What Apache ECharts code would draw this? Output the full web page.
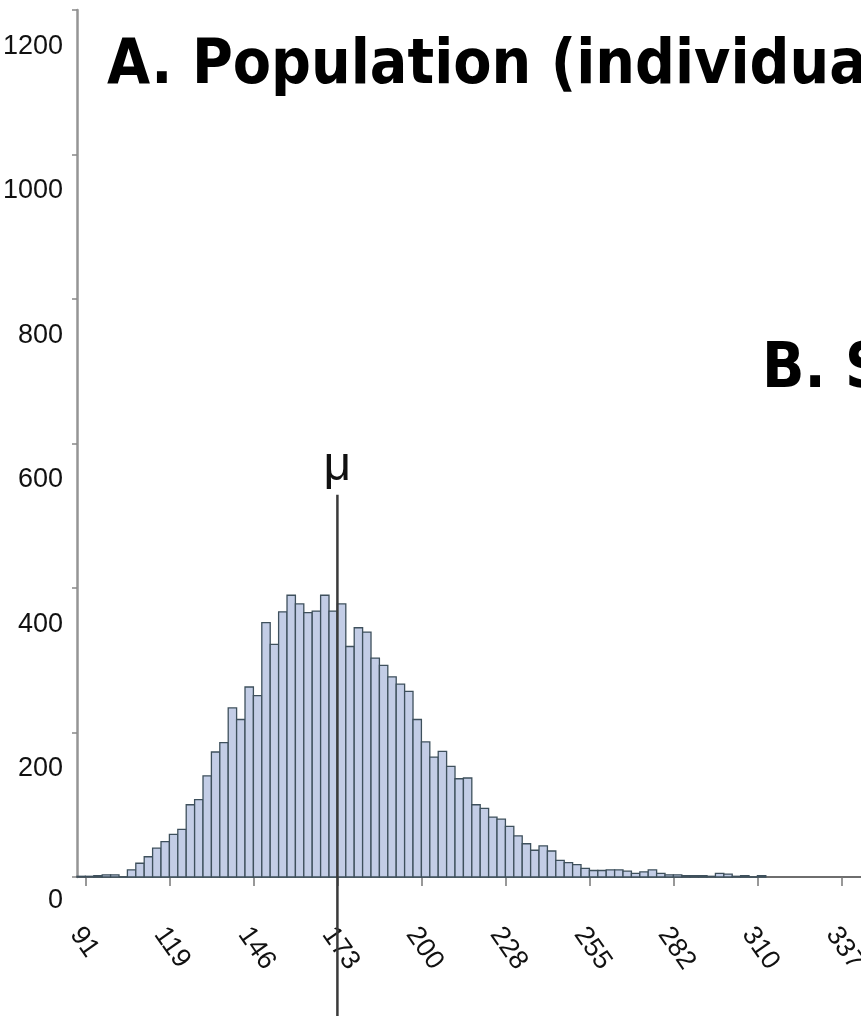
<!DOCTYPE html>
<html>
<head>
<meta charset="utf-8">
<script src="https://cdn.jsdelivr.net/npm/echarts@6/dist/echarts.min.js"></script>
<style>
  html, body { margin: 0; padding: 0; background: #ffffff; }
  #chart { width: 861px; height: 1016px; }
</style>
</head>
<body>
<div id="chart"></div>
<script>
// ---- Data ----
const BIN_START = 88.47;   // left edge of first bin
const BIN_WIDTH = 2.73;    // width of each bin
const COUNTS = [
  1, 1, 2, 3, 3, 0, 10, 19, 28, 40,
  49, 59, 66, 100, 107, 140, 173, 186, 234, 218,
  263, 251, 352, 322, 367, 390, 378, 366, 368, 390,
  368, 378, 319, 345, 339, 303, 293, 277, 267, 257,
  218, 187, 166, 174, 153, 136, 137, 100, 95, 83,
  80, 70, 57, 46, 37, 43, 36, 23, 20, 17,
  12, 9, 9, 10, 10, 8, 5, 7, 10, 5,
  3, 3, 2, 2, 2, 1, 5, 4, 1, 2,
  0, 2
];
const X_TICK_VALUES = [91.2, 118.5, 145.8, 173.1, 200.4, 227.7, 255.0, 282.3, 309.6, 336.9];
const X_TICK_LABELS = ['91', '119', '146', '173', '200', '228', '255', '282', '310', '337'];
const Y_TICK_LABELS = ['0', '200', '400', '600', '800', '1000', '1200'];
const MU = 173.1;
const MU_LABEL = 'μ';
const TITLE_A = 'A. Population (individua';
const TITLE_B = 'B. S';

// ---- Build ----
const binData = COUNTS.map((c, i) => [BIN_START + i * BIN_WIDTH, BIN_START + (i + 1) * BIN_WIDTH, c]);

const LABEL_FONT = "'Liberation Sans', Arial, sans-serif";
const TITLE_FONT = "'DejaVu Sans Condensed', 'DejaVu Sans', Verdana, sans-serif";

const chart = echarts.init(document.getElementById('chart'), null, { renderer: 'canvas' });

const option = {
  backgroundColor: '#ffffff',
  animation: false,
  title: [
    { text: TITLE_A, left: 107, top: 36, padding: 0,
      textStyle: { fontFamily: TITLE_FONT, fontWeight: 'bold', fontSize: 62, color: '#000' } },
    { text: TITLE_B, left: 762, top: 340, padding: 0,
      textStyle: { fontFamily: TITLE_FONT, fontWeight: 'bold', fontSize: 62, color: '#000' } }
  ],
  grid: { left: 77, right: 0, top: 10, bottom: 139, outerBoundsMode: 'none' },
  xAxis: {
    type: 'value',
    min: BIN_START,
    max: BIN_START + 93.33 * BIN_WIDTH,
    splitLine: { show: false },
    axisLine: { show: true, onZero: false, lineStyle: { color: '#6e6e6e', width: 2 } },
    axisTick: { show: true, customValues: X_TICK_VALUES, length: 9, lineStyle: { color: '#777', width: 1.5 } },
    axisLabel: {
      show: true,
      customValues: X_TICK_VALUES,
      rotate: -55,
      margin: 46,
      fontFamily: LABEL_FONT,
      fontSize: 27,
      color: '#111',
      formatter: function (v) {
        let best = 0, d = Infinity;
        X_TICK_VALUES.forEach((t, i) => { if (Math.abs(t - v) < d) { d = Math.abs(t - v); best = i; } });
        return '{t|' + X_TICK_LABELS[best] + '}';
      },
      rich: {
        t: { fontFamily: LABEL_FONT, fontSize: 27, color: '#111', padding: [24, 0, 0, 0] }
      }
    }
  },
  yAxis: {
    type: 'value',
    min: 0,
    max: 1200,
    interval: 200,
    splitLine: { show: false },
    axisLine: { show: true, lineStyle: { color: '#959595', width: 2.5 } },
    axisTick: { show: true, length: 5, lineStyle: { color: '#888', width: 1.5 } },
    axisLabel: {
      margin: 14,
      color: '#111',
      fontFamily: LABEL_FONT,
      fontSize: 27,
      formatter: function (v) {
        const idx = Math.round(v / 200);
        const txt = Y_TICK_LABELS[idx];
        return idx === 0 ? '{z|' + txt + '}' : '{n|' + txt + '}';
      },
      rich: {
        n: { fontFamily: LABEL_FONT, fontSize: 27, color: '#111', padding: [73, 0, 0, 0] },
        z: { fontFamily: LABEL_FONT, fontSize: 27, color: '#111', padding: [48, 0, 0, 0] }
      }
    }
  },
  series: [
    {
      type: 'custom',
      name: 'counts',
      data: binData,
      encode: { x: [0, 1], y: 2 },
      renderItem: function (params, api) {
        const p0 = api.coord([api.value(0), api.value(2)]);
        const p1 = api.coord([api.value(1), 0]);
        return {
          type: 'rect',
          shape: { x: p0[0], y: p0[1], width: p1[0] - p0[0], height: p1[1] - p0[1] },
          style: { fill: '#c3cde6', stroke: '#3e505c', lineWidth: 1.3 }
        };
      }
    },
    {
      type: 'line',
      name: 'mu',
      clip: false,
      symbol: 'circle',
      symbolSize: 0,
      showSymbol: true,
      data: [[MU, 529], [MU, -195]],
      lineStyle: { color: '#3a3a3a', width: 2.5 },
      label: {
        show: true,
        position: 'top',
        distance: 4,
        fontFamily: LABEL_FONT,
        fontSize: 48,
        color: '#111',
        formatter: function (p) { return p.dataIndex === 0 ? MU_LABEL : ''; }
      },
      z: 5
    }
  ]
};
chart.setOption(option);
</script>
</body>
</html>
